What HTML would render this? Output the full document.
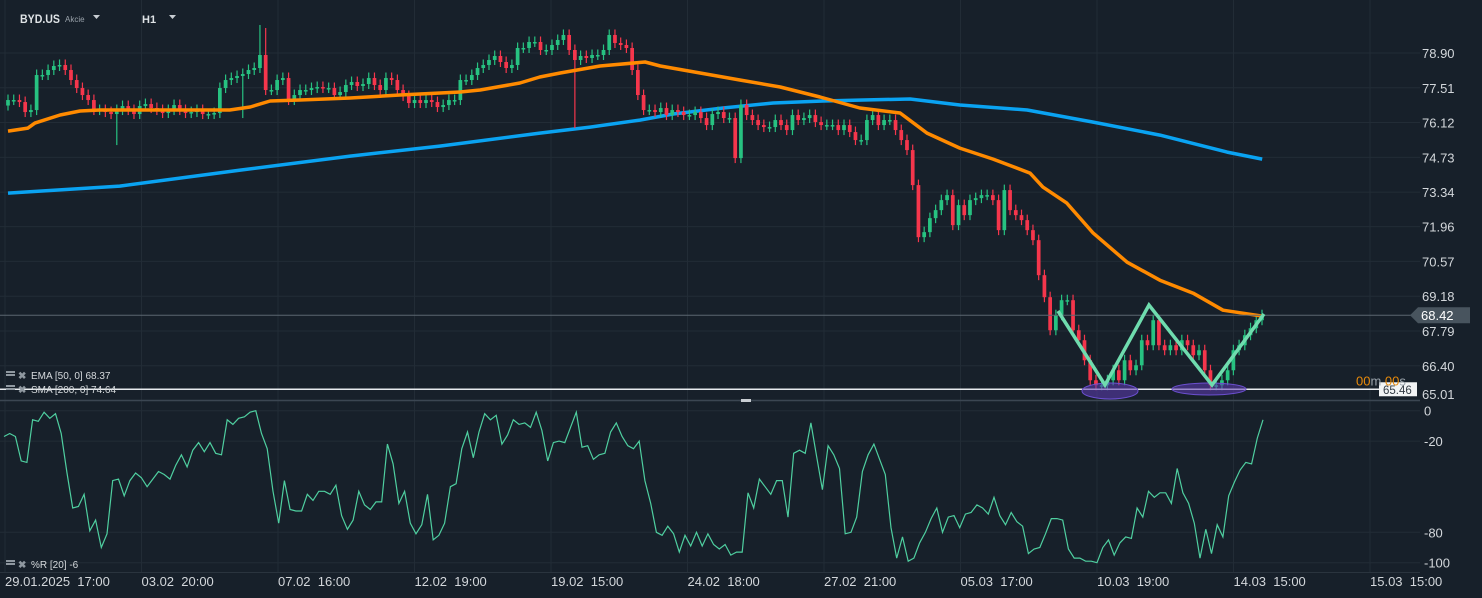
<!DOCTYPE html>
<html><head><meta charset="utf-8"><style>
html,body{margin:0;padding:0;background:#17202a;overflow:hidden}
#wrap{position:relative;width:1482px;height:598px;background:#17202a;font-family:"Liberation Sans",sans-serif}
svg{position:absolute;left:0;top:0}
</style></head><body>
<div id="wrap">
<svg id="chart" width="1482" height="598"></svg>
</div>
<script>
const closes=[77.02,77.02,76.94,76.54,76.62,78.02,78.02,78.22,78.38,78.42,
78.22,77.82,77.50,77.22,77.02,76.62,76.62,76.54,
76.46,76.62,76.78,76.62,76.46,76.78,76.86,76.70,76.62,76.50,
76.62,76.82,76.62,76.50,76.54,76.62,76.46,76.46,
76.50,77.50,77.82,77.90,77.98,78.06,78.22,78.30,78.82,77.42,
77.42,77.82,77.90,77.02,77.22,77.42,77.42,77.50,77.54,
77.50,77.50,77.22,77.34,77.62,77.74,77.58,77.66,77.90,77.62,
77.42,77.90,77.82,77.42,77.18,76.90,77.02,76.90,77.02,76.94,
76.74,76.82,77.02,77.02,77.82,77.82,78.02,78.30,78.42,
78.62,78.78,78.54,78.30,78.42,79.10,79.10,79.34,79.34,
79.02,79.02,79.22,79.42,79.62,79.02,78.62,78.78,78.70,
78.82,78.82,79.02,79.62,79.30,79.22,79.10,78.22,77.22,76.62,
76.62,76.54,76.70,76.42,76.62,76.54,76.42,76.42,76.54,76.30,
76.02,76.46,76.54,76.30,76.30,74.70,76.82,76.42,76.22,76.02,
75.94,75.94,76.22,76.02,75.82,76.42,76.22,76.30,76.42,76.14,
76.02,76.02,76.02,75.82,76.02,75.74,75.42,75.42,76.22,76.42,
76.02,76.22,76.22,75.82,75.42,
75.02,73.62,71.54,71.74,72.30,72.62,73.02,73.22,72.02,72.82,72.42,73.02,73.10,73.22,73.22,73.02,71.82,73.42,72.62,72.42,72.22,
71.82,71.42,70.02,69.14,67.82,68.42,69.02,69.02,67.82,67.42,66.62,65.82,65.62,65.62,65.82,66.22,65.82,66.62,66.22,66.42,67.42,
67.22,68.22,67.22,67.02,67.22,67.02,67.42,67.22,66.82,67.02,66.22,65.62,65.62,65.82,66.22,67.02,67.22,67.62,67.90,68.22,68.42];
const firstOpen=76.80;
const spikeIdx=[19,44,45,99,127,41];
const spikeHigh=[null,80.02,79.90,null,null,null];
const spikeLow=[75.22,null,null,75.90,74.50,76.30];
const emaIdx=[0,3.4,4.6,8.9,12.3,15.7,32.8,37.9,41.4,44.8,49.9,58.5,67,77.3,80.7,87.5,90.9,94.4,101.2,108.9,111.5,118.3,125.1,132,138.8,145.6,152.5,157.1,162.7,168.4,174.7,176.9,181,185.5,191.3,196.9,202.6,207.7,214.5];
const emaVal=[75.78,75.90,76.10,76.42,76.58,76.62,76.62,76.62,76.74,76.98,77.02,77.10,77.22,77.34,77.42,77.70,77.94,78.10,78.38,78.54,78.38,78.10,77.82,77.54,77.14,76.70,76.50,75.70,75.10,74.66,74.10,73.54,72.90,71.70,70.54,69.82,69.30,68.62,68.38];
const smaIdx=[0,19.1,39.7,58.5,73.8,90.9,99.5,108,113.7,122.2,130.8,139.3,146.2,154.2,162.7,174.2,185.5,196.9,208.4,214.4];
const smaVal=[73.30,73.58,74.22,74.78,75.18,75.70,75.94,76.22,76.46,76.70,76.90,76.98,77.02,77.06,76.82,76.62,76.14,75.62,74.94,74.66];
const wr=[-17,-15,-17,-33,-34,-6,-7,-1,-5,-2,-15,-41,-64,-63,-55,-79,-72,-90,-81,-46,-45,-56,-46,-41,-44,-50,-45,-40,-42,-45,-36,-29,-37,-26,-21,-27,-21,-28,-29,-6,-9,-5,-4,-1,0,-15,-25,-53,-74,-46,-65,-66,-66,-55,-59,-53,-53,-55,-49,-69,-78,-72,-53,-62,-65,-60,-60,-22,-35,-61,-53,-74,-81,-75,-55,-85,-82,-74,-50,-48,-25,-14,-31,-14,-2,-6,-3,-22,-16,-6,-9,-8,-11,-1,-13,-33,-21,-20,-21,-11,-1,-24,-23,-32,-29,-28,-14,-8,-17,
-23,-25,-20,-46,-61,-80,-82,-76,-81,-93,-82,-89,-80,-89,-81,-88,-91,-88,-95,-93,-93,-54,-64,-45,-50,-55,-46,-46,-70,-28,-26,-28,-8,-30,-52,-23,-29,-38,-81,-80,-70,-40,-29,-22,-32,-42,-77,-97,-83,-99,-97,-87,-80,-71,-64,-80,-70,-69,-77,-68,-67,-62,-64,-68,-57,-69,-75,-67,-73,-76,-94,-91,-90,-81,-71,-71,-72,-91,-97,-97,-99,-99,-100,-90,-85,-95,-87,-83,-84,-64,-70,-53,-57,-54,-54,-61,-38,-54,-61,-74,-97,-78,-94,-75,-83,-56,-47,-39,-34,-35,-18,-6];
const priceTicks=["78.90","77.51","76.12","74.73","73.34","71.96","70.57","69.18","67.79","66.40","65.01"];
const wrTicks=[0,-20,-80,-100];
const timeLabels=["29.01.2025  17:00","03.02  20:00","07.02  16:00","12.02  19:00","19.02  15:00","24.02  18:00","27.02  21:00","05.03  17:00","10.03  19:00","14.03  15:00","15.03  15:00"];
const lastPrice=68.42, supportPrice=65.46;

const NS="http://www.w3.org/2000/svg";
const svg=document.getElementById('chart');
const step=1254/(closes.length-1);
const X=i=>8+i*step;
const XE=i=>8+i*5.85;
const Y=p=>53+(78.90-p)*25.02;
const YR=v=>410.7-v*1.52;
const XR=i=>4+i*(1259/(wr.length-1));
function el(t,a,parent){const e=document.createElementNS(NS,t);for(const k in a)e.setAttribute(k,a[k]);(parent||svg).appendChild(e);return e;}

const grid=el('g',{});


for(let k=0;k<timeLabels.length;k++){const x=5+k*136.5;el('line',{x1:x,y1:0,x2:x,y2:572,stroke:'#222c36','stroke-width':1},grid);}
priceTicks.forEach(t=>{el('line',{x1:0,y1:Y(+t),x2:1420,y2:Y(+t),stroke:'#222c36','stroke-width':1},grid);});
wrTicks.forEach(v=>{el('line',{x1:0,y1:YR(v),x2:1420,y2:YR(v),stroke:'#222c36','stroke-width':1},grid);});
el('line',{x1:0,y1:400.5,x2:1420,y2:400.5,stroke:'#3b4652','stroke-width':1.5},grid);
el('line',{x1:0,y1:572.5,x2:1420,y2:572.5,stroke:'#2a343e','stroke-width':1},grid);
el('rect',{x:741,y:399,width:10,height:3,fill:'#c8cdd2'},grid);

let d='';smaIdx.forEach((i,k)=>{d+=(k?'L':'M')+XE(i).toFixed(1)+' '+Y(smaVal[k]).toFixed(1);});
const sma=el('path',{d,fill:'none',stroke:'#0aa3f2','stroke-width':3.5,'stroke-linejoin':'round'});



const cg=el('g',{});


const bw=Math.max(3,step*0.65);
closes.forEach((c,i)=>{
  const o=i?closes[i-1]:firstOpen;
  let hi=Math.max(o,c)+0.22, lo=Math.min(o,c)-0.2;
  const s=spikeIdx.indexOf(i);
  if(s>=0){if(spikeHigh[s]!=null)hi=spikeHigh[s];if(spikeLow[s]!=null)lo=spikeLow[s];}
  const up=c>=o, col=up?'#27c281':'#f5364c';
  const x=X(i);
  const g=el('g',{},cg);
  
  
  el('line',{x1:x,y1:Y(hi),x2:x,y2:Y(lo),stroke:col,'stroke-width':1.2},g);
  const yt=Y(Math.max(o,c)),yb=Y(Math.min(o,c));
  el('rect',{x:x-bw/2,y:yt,width:bw,height:Math.max(1.5,yb-yt),fill:col},g);
});

d='';emaIdx.forEach((i,k)=>{d+=(k?'L':'M')+XE(i).toFixed(1)+' '+Y(emaVal[k]).toFixed(1);});
const ema=el('path',{d,fill:'none',stroke:'#ff8a00','stroke-width':3.5,'stroke-linejoin':'round'});



const lp=el('line',{x1:0,y1:Y(lastPrice),x2:1420,y2:Y(lastPrice),stroke:'#5b6670','stroke-width':1});


const sl=el('line',{x1:0,y1:Y(supportPrice),x2:1380,y2:Y(supportPrice),stroke:'#e8ecef','stroke-width':1.5});



const e1=el('ellipse',{cx:1110,cy:391,rx:28,ry:8,fill:'rgba(95,60,180,0.55)',stroke:'#6b4fd0','stroke-width':1});


const e2=el('ellipse',{cx:1209,cy:389,rx:37,ry:6,fill:'rgba(95,60,180,0.55)',stroke:'#6b4fd0','stroke-width':1});



const wPts=[[1058,311],[1105,385],[1149,305],[1212,385],[1264,314]];
const wp=el('polyline',{points:wPts.map(p=>p.join(',')).join(' '),fill:'none',stroke:'#6fdcae','stroke-width':3.5,'stroke-linejoin':'miter'});



d='';wr.forEach((v,i)=>{d+=(i?'L':'M')+XR(i).toFixed(1)+' '+YR(v).toFixed(1);});
const wrl=el('path',{d,fill:'none',stroke:'#4fcfa0','stroke-width':1.2});



const ax=el('g',{'font-family':'Liberation Sans, sans-serif','font-size':'13','fill':'#d3d7db'});


priceTicks.forEach(t=>{const tx=el('text',{x:1422,y:Math.min(Y(+t)+5,399)},ax);tx.textContent=t;

});
wrTicks.forEach(v=>{const tx=el('text',{x:1424,y:YR(v)+5},ax);tx.textContent=String(v);

});
const tax=el('g',{'font-family':'Liberation Sans, sans-serif','font-size':'13','fill':'#d3d7db'});


timeLabels.forEach((t,k)=>{const tx=el('text',{x:5+k*136.5,y:586},tax);tx.style.whiteSpace='pre';tx.textContent=t;

});

const tag=el('g',{});


const ty=Y(lastPrice);
el('path',{d:`M1410 ${ty} L1418 ${ty-8} L1470 ${ty-8} L1470 ${ty+8} L1418 ${ty+8} Z`,fill:'#48545e'},tag);
const tt=el('text',{x:1421,y:ty+5,'font-family':'Liberation Sans, sans-serif','font-size':'13',fill:'#ffffff'},tag);tt.textContent=lastPrice.toFixed(2);

const st=el('g',{});


const sy=Y(supportPrice);
el('rect',{x:1379,y:sy-7,width:38,height:14,fill:'#f2f4f5'},st);
const stt=el('text',{x:1383,y:sy+4.5,'font-family':'Liberation Sans, sans-serif','font-size':'11.5',fill:'#333b44'},st);stt.textContent=supportPrice.toFixed(2);
const cd=el('text',{x:1356,y:sy-4,'font-family':'Liberation Sans, sans-serif','font-size':'13',fill:'#e88a0a'});
cd.innerHTML='00<tspan fill="#9aa3ab">m </tspan>00<tspan fill="#9aa3ab">s</tspan>';



const hd=el('g',{'font-family':'Liberation Sans, sans-serif'});


let h=el('text',{x:20,y:23,'font-size':'12','font-weight':'bold',fill:'#dfe3e6',textLength:40,lengthAdjust:'spacingAndGlyphs'},hd);h.textContent='BYD.US';
h=el('text',{x:65,y:22,'font-size':'8',fill:'#9aa3ab'},hd);h.textContent='Akcie';
el('path',{d:'M93 15 L100 15 L96.5 19 Z',fill:'#c8cdd2'},hd);
h=el('text',{x:142,y:23,'font-size':'11','font-weight':'bold',fill:'#dfe3e6'},hd);h.textContent='H1';
el('path',{d:'M169 15 L176 15 L172.5 19 Z',fill:'#c8cdd2'},hd);

function legend(y,txt,name){
  const g=el('g',{'font-family':'Liberation Sans, sans-serif'});
  
  
  el('rect',{x:6,y:y-8,width:9,height:2,fill:'#8f98a0'},g);
  el('rect',{x:6,y:y-5,width:9,height:2,fill:'#8f98a0'},g);
  const t1=el('text',{x:18,y:y,'font-size':'10','font-weight':'bold',fill:'#8f98a0'},g);t1.textContent='✖';
  const t=el('text',{x:31,y:y,'font-size':'10',fill:'#d6dadd'},g);t.textContent=txt;
}
legend(379,'EMA [50, 0] 68.37','ema-legend');
legend(393,'SMA [200, 0] 74.64','sma-legend');
legend(568,'%R [20] -6','williams-r-legend');
</script>
</body></html>
